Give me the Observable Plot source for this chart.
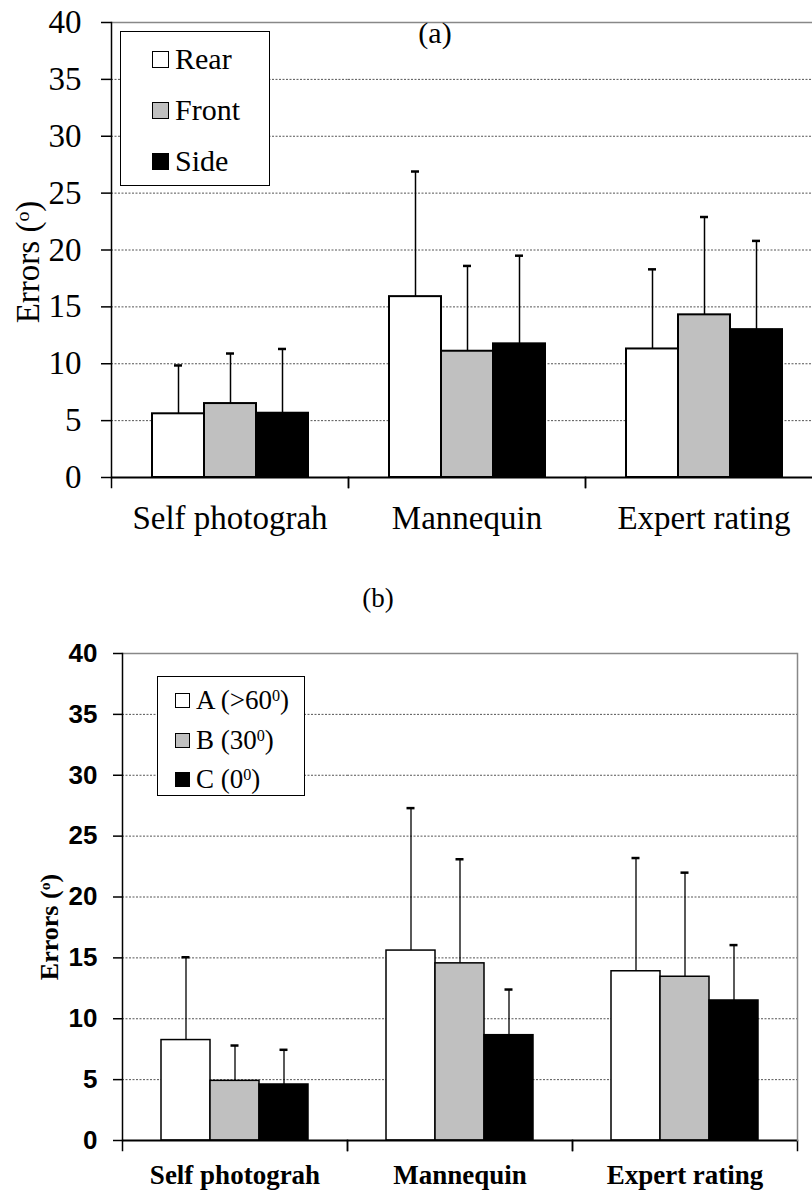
<!DOCTYPE html>
<html><head><meta charset="utf-8">
<script src="https://cdn.jsdelivr.net/npm/d3@7"></script>
<script src="https://cdn.jsdelivr.net/npm/@observablehq/plot@0.6"></script>
<style>
body{margin:0;background:#fff;}
#wrap{position:relative;width:812px;height:1193px;overflow:hidden;background:#fff;}
.abs{position:absolute;}
.svgbox{position:absolute;left:0;}
.legend{position:absolute;background:#fff;border:1.5px solid #000;box-sizing:border-box;}
.item{position:absolute;left:0;white-space:nowrap;line-height:1;}
.sw{position:absolute;box-sizing:border-box;border:1.5px solid #000;}
.ylab{position:absolute;white-space:nowrap;transform:translate(-50%,-50%) rotate(-90deg);line-height:1;}
sup{font-size:0.6em;position:relative;top:-0.5em;vertical-align:baseline;}
.ttl{position:absolute;white-space:nowrap;transform:translate(-50%,-50%);line-height:1;}
</style></head><body><div id="wrap"></div>
<script>
// ---------- data ----------
const categories = ["Self photograh", "Mannequin", "Expert rating"];
const yTicks = [0, 5, 10, 15, 20, 25, 30, 35, 40];
const gridTicks = [5, 10, 15, 20, 25, 30, 35];

// (a) view
const seriesA = ["Rear", "Front", "Side"];
const rearMean  = [5.6, 15.9, 11.3];
const rearSD    = [4.25, 11.0, 7.0];
const frontMean = [6.5, 11.1, 14.3];
const frontSD   = [4.4, 7.5, 8.6];
const sideMean  = [5.65, 11.75, 13.0];
const sideSD    = [5.65, 7.75, 7.8];

// (b) angle
const seriesB = ["A", "B", "C"];
const anglesB = [">60", "30", "0"];
const aMean = [8.25, 15.6, 13.9];
const aSD   = [6.8, 11.7, 9.3];
const bMean = [4.9, 14.55, 13.45];
const bSD   = [2.9, 8.55, 8.55];
const cMean = [4.6, 8.65, 11.5];
const cSD   = [2.85, 3.75, 4.55];

const fills = ["#ffffff", "#c0c0c0", "#000000"];

function rowsOf(series, means, sds) {
  const rows = [];
  series.forEach((s, j) => categories.forEach((c, i) =>
    rows.push({cat: c, series: s, mean: means[j][i], sd: sds[j][i]})));
  return rows;
}

function chart(o) {
  const rows = rowsOf(o.series, o.means, o.sds);
  const innerH = o.height - o.mt - o.mb;
  const top = d => d.mean + d.sd;
  return Plot.plot({
    width: 812, height: o.height,
    marginTop: o.mt, marginBottom: o.mb, marginLeft: o.ml, marginRight: o.mr,
    style: {background: "transparent", overflow: "visible", color: "#000", fontFamily: "'Liberation Serif', serif"},
    fx: {domain: categories, padding: 0, axis: null},
    x: {domain: o.series, paddingInner: 0, paddingOuter: o.pad, axis: null},
    y: {domain: [0, 40], axis: null},
    color: {domain: o.series, range: fills},
    marks: [
      Plot.ruleY(gridTicks, {stroke: "#555", strokeDasharray: "2,1.5", strokeWidth: 1}),
      Plot.ruleY([40], {stroke: "#888", strokeWidth: 1.5}),
      Plot.ruleX(rows, {fx: "cat", x: "series", y1: "mean", y2: top, stroke: "#000", strokeWidth: o.errW}),
      Plot.tickY(rows, {fx: "cat", x: "series", y: top, insetLeft: o.capInset, insetRight: o.capInset, stroke: "#000", strokeWidth: 2.5}),
      Plot.barY(rows, {fx: "cat", x: "series", y: "mean", fill: "series", stroke: "#000", strokeWidth: o.barW}),
      Plot.ruleY([0], {stroke: "#000", strokeWidth: 2}),
      Plot.frame({anchor: "left", insetTop: innerH, insetBottom: -o.xTick, stroke: "#000", strokeWidth: 1.5}),
      Plot.frame({anchor: "right", insetTop: innerH, insetBottom: -o.xTick, stroke: "#000", strokeWidth: 1.5}),
      ...(o.rightBorder ? [Plot.frame({anchor: "right", facet: "super", stroke: "#888", strokeWidth: 1.5})] : []),
      Plot.frame({anchor: "left", facet: "super", stroke: "#000", strokeWidth: 1.5}),
      Plot.axisY(yTicks, {tickSize: o.yTick, tickPadding: o.yPad, fontSize: o.yFont, fontFamily: o.yFamily, fontWeight: o.yWeight, strokeWidth: 1.5, label: null}),
      Plot.axisFx({anchor: "bottom", tickSize: 0, tickPadding: o.xPad, fontSize: o.xFont, fontFamily: o.xFamily, fontWeight: o.xWeight, label: null})
    ]
  });
}

const wrap = document.getElementById("wrap");
function place(el, topPx) {
  const d = document.createElement("div");
  d.className = "svgbox"; d.style.top = topPx + "px";
  d.appendChild(el); wrap.appendChild(d);
}

place(chart({
  series: seriesA, means: [rearMean, frontMean, sideMean], sds: [rearSD, frontSD, sideSD],
  height: 560, mt: 22, mb: 83, ml: 110, mr: -10.5, pad: 0.74,
  errW: 1.5, capInset: 22, barW: 2, xTick: 10,
  yTick: 10, yPad: 20, yFont: 33, yFamily: "Liberation Serif", yWeight: "normal",
  xPad: 28, xFont: 33, xFamily: "Liberation Serif", xWeight: "normal", rightBorder: false
}), 0);

place(chart({
  series: seriesB, means: [aMean, bMean, cMean], sds: [aSD, bSD, cSD],
  height: 573, mt: 33, mb: 53, ml: 122, mr: 15, pad: 0.764,
  errW: 1.3, capInset: 20.5, barW: 1.5, xTick: 10,
  yTick: 9, yPad: 16, yFont: 26, yFamily: "Liberation Sans", yWeight: "bold",
  xPad: 24, xFont: 27, xFamily: "Liberation Serif", xWeight: "bold", rightBorder: true
}), 620);

// ---------- titles, labels, legends ----------
function addText(cls, html, x, y, css) {
  const d = document.createElement("div");
  d.className = cls; d.innerHTML = html;
  d.style.left = x + "px"; d.style.top = y + "px";
  Object.assign(d.style, css);
  wrap.appendChild(d);
}
addText("ttl", "(a)", 435, 33, {font: "30px 'Liberation Serif', serif"});
addText("ttl", "(b)", 378, 598, {font: "27px 'Liberation Serif', serif"});
addText("ylab", "Errors (<sup>o</sup>)", 28, 262, {font: "33px 'Liberation Serif', serif"});
addText("ylab", "Errors (<sup>o</sup>)", 50, 927, {font: "bold 26px 'Liberation Serif', serif"});

function legend(box, labels, rowsY, sw, swX, txtX, font) {
  const L = document.createElement("div");
  L.className = "legend";
  Object.assign(L.style, {left: box[0] + "px", top: box[1] + "px", width: box[2] + "px", height: box[3] + "px"});
  labels.forEach((lab, i) => {
    const s = document.createElement("div");
    s.className = "sw";
    Object.assign(s.style, {left: (swX - box[0]) + "px", top: (rowsY[i] - box[1] - sw / 2) + "px", width: sw + "px", height: sw + "px", background: fills[i]});
    L.appendChild(s);
    const t = document.createElement("div");
    t.className = "item"; t.innerHTML = lab;
    Object.assign(t.style, {left: (txtX - box[0]) + "px", top: (rowsY[i] - box[1]) + "px", font: font, transform: "translateY(-50%)"});
    L.appendChild(t);
  });
  wrap.appendChild(L);
}
legend([120, 31, 150, 155], seriesA, [58, 109, 160], 17, 151, 174, "30px 'Liberation Serif', serif");
legend([157, 676, 148, 120], seriesB.map((s, i) => `${s} (${anglesB[i]}<sup>0</sup>)`), [699, 739, 778], 15, 174, 195, "27px 'Liberation Serif', serif");
</script></body></html>
